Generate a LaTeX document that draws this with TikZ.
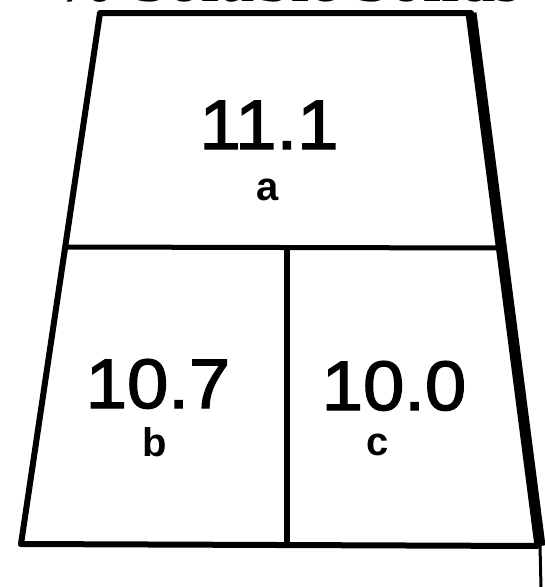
\documentclass[tikz,border=0pt]{standalone}
\usepackage{fontspec}
\setmainfont{Liberation Sans}
\newfontfamily\titlefont{Liberation Serif}
\newfontfamily\numfont[FakeBold=2,FakeStretch=1.06]{Liberation Sans}
\begin{document}
\begin{tikzpicture}[x=1pt,y=-1pt,
  edge/.style={line width=6pt,line cap=round,line join=round},
  num/.style={font=\fontsize{70}{70}\numfont,anchor=base,inner sep=0pt},
  lbl/.style={font=\fontsize{40}{40}\selectfont\bfseries,anchor=base,inner sep=0pt}]
\useasboundingbox (0,0) rectangle (545,587);
\clip (0,0) rectangle (545,587);
% title (cut off at the top)
\node[font=\fontsize{65}{65}\selectfont\titlefont\bfseries,anchor=base,inner sep=0pt] (title) at (286,1.5) {\% Soluble Solids};
% corners
\coordinate (tl) at (100,13);
\coordinate (tr) at (471,13);
\coordinate (bl) at (21,544);
\coordinate (br) at (540,546);
\coordinate (ml) at (65,247);
\coordinate (mr) at (500,248);
\coordinate (vt) at (287,248);
\coordinate (vb) at (287,545);
% outline
\draw[edge] (bl) -- (tl) -- (tr);
\draw[line width=11pt] (tr) -- (br);
\draw[line width=3pt] (br) -- (541,587);
\draw[edge] (bl) -- (537,546);
\draw[line width=5pt] (ml) -- (mr);
\draw[edge] (vt) -- (vb);
% texts
\node[num] (va) at (269,149) {11.1};
\node[lbl] (la) at (268,200) {a};
\node[num] (vbn) at (158,408) {10.7};
\node[lbl] (lb) at (155,456) {b};
\node[num] (vc) at (394,410) {10.0};
\node[lbl] (lc) at (378,455) {c};
\end{tikzpicture}
\end{document}
